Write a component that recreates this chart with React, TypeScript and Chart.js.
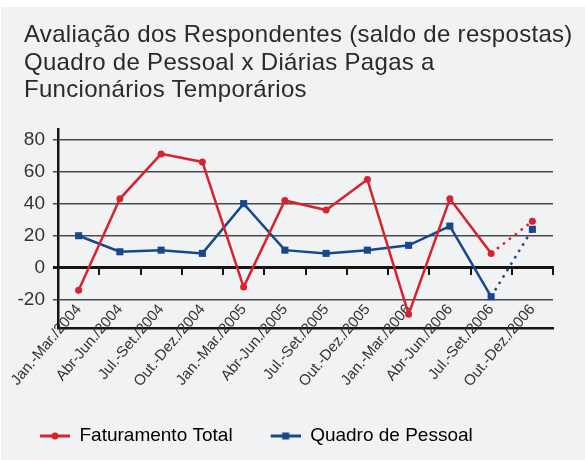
import React, { useEffect, useRef } from 'react';
import { Chart, registerables } from 'chart.js';

Chart.register(...registerables);

const titleLines = [
  'Avaliação dos Respondentes (saldo de respostas)',
  'Quadro de Pessoal x Diárias Pagas a',
  'Funcionários Temporários',
];

const categories = [
  'Jan.-Mar./2004',
  'Abr-Jun./2004',
  'Jul.-Set./2004',
  'Out.-Dez./2004',
  'Jan.-Mar./2005',
  'Abr-Jun./2005',
  'Jul.-Set./2005',
  'Out.-Dez./2005',
  'Jan.-Mar./2006',
  'Abr-Jun./2006',
  'Jul.-Set./2006',
  'Out.-Dez./2006',
];

const faturamentoTotal = [-14, 43, 71, 66, -12, 42, 36, 55, -29, 43, 9, 29];
const quadroDePessoal = [20, 10, 11, 9, 40, 11, 9, 11, 14, 26, -18, 24];

const seriesNames = ['Faturamento Total', 'Quadro de Pessoal'];
const yTicks = [-20, 0, 20, 40, 60, 80];

const RED = '#d6232d';
const BLUE = '#17488c';
const FONT = "'Liberation Sans', Arial, sans-serif";

function makeLegendImage(color: string, kind: 'circle' | 'rect') {
  const c = document.createElement('canvas');
  c.width = 58;
  c.height = 12;
  const g = c.getContext('2d')!;
  g.strokeStyle = color;
  g.lineWidth = 3;
  g.beginPath();
  g.moveTo(28, 6);
  g.lineTo(58, 6);
  g.stroke();
  g.fillStyle = color;
  if (kind === 'circle') {
    g.beginPath();
    g.arc(43, 6, 3.5, 0, Math.PI * 2);
    g.fill();
  } else {
    g.fillRect(39.5, 2.5, 7, 7);
  }
  return c;
}

export default function App() {
  const ref = useRef<HTMLCanvasElement>(null);

  useEffect(() => {
    const imgs = [makeLegendImage(RED, 'circle'), makeLegendImage(BLUE, 'rect')];
    const dashLast = (c: any) => (c.p0DataIndex === 10 ? [2.5, 5] : undefined);
    const chart = new Chart(ref.current!, {
      type: 'line',
      data: {
        labels: categories,
        datasets: [
          {
            label: seriesNames[0],
            data: faturamentoTotal,
            borderColor: RED,
            backgroundColor: RED,
            borderWidth: 2.5,
            pointStyle: 'circle',
            pointRadius: 3.5,
            pointBorderWidth: 0,
            pointBackgroundColor: RED,
            tension: 0,
            segment: { borderDash: dashLast },
          },
          {
            label: seriesNames[1],
            data: quadroDePessoal,
            borderColor: BLUE,
            backgroundColor: BLUE,
            borderWidth: 2.5,
            pointStyle: 'rect',
            pointRadius: 5,
            pointBorderWidth: 0,
            pointBackgroundColor: BLUE,
            tension: 0,
            segment: { borderDash: dashLast },
          },
        ],
      },
      options: {
        animation: false,
        responsive: false,
        layout: { padding: { left: 2, right: 32, top: 129, bottom: 4.5 } },
        plugins: {
          title: { display: false },
          tooltip: { enabled: false },
          legend: {
            position: 'bottom',
            align: 'start',
            labels: {
              usePointStyle: true,
              pointStyleWidth: 58,
              padding: 10,
              color: '#333',
              font: { family: FONT, size: 19 },
              generateLabels: () =>
                seriesNames.map((name, i) => ({
                  text: name,
                  pointStyle: imgs[i] as any,
                  fillStyle: 'rgba(0,0,0,0)',
                  strokeStyle: 'rgba(0,0,0,0)',
                  lineWidth: 0,
                  hidden: false,
                  datasetIndex: i,
                })),
            },
          },
        },
        scales: {
          x: {
            type: 'category',
            offset: true,
            grid: { display: false, drawTicks: false },
            border: { display: true, color: '#151515', width: 2.5 },
            ticks: { display: false },
            afterFit: (s: any) => {
              s.height = 88.5;
              s.paddingLeft = 0;
              s.paddingRight = 0;
            },
          },
          x2: {
            type: 'category',
            labels: categories,
            position: { y: 0 } as any,
            offset: true,
            grid: {
              offset: true,
              drawOnChartArea: false,
              drawTicks: true,
              tickLength: 6,
              color: '#151515',
              lineWidth: 2,
            },
            border: { display: true, color: '#151515', width: 3 },
            ticks: {
              autoSkip: false,
              minRotation: 50,
              maxRotation: 50,
              padding: 27,
              color: '#333',
              font: { family: FONT, size: 15 },
            },
            afterFit: (s: any) => {
              s.height = 0;
              s.paddingLeft = 0;
              s.paddingRight = 0;
            },
          },
          y: {
            min: -37.5,
            max: 86.5,
            afterBuildTicks: (axis: any) => {
              axis.ticks = yTicks.map((v) => ({ value: v }));
            },
            grid: {
              color: (c: any) => (c.tick && c.tick.value === 0 ? '#151515' : '#4a4a4a'),
              lineWidth: (c: any) => (c.tick && c.tick.value === 0 ? 3 : 1.5),
              tickLength: 5,
            },
            border: { display: true, color: '#151515', width: 2.5 },
            ticks: {
              padding: 8,
              color: '#333',
              font: { family: FONT, size: 19 },
            },
            afterFit: (s: any) => {
              s.width = 56;
            },
          },
        },
      },
    } as any);
    return () => chart.destroy();
  }, []);

  return (
    <div style={{ position: 'absolute', left: 0, top: 0, width: 585, height: 460, background: '#ffffff', overflow: 'hidden' }}>
      <div style={{ position: 'absolute', left: 1, top: 7, right: 0, bottom: 0, background: '#f1f2f4' }} />
      <canvas ref={ref} width={585} height={460} style={{ position: 'absolute', left: 0, top: 0, width: 585, height: 460 }} />
      <div
        style={{
          position: 'absolute',
          left: 24,
          top: 20,
          fontFamily: FONT,
          fontSize: 24,
          lineHeight: '27.5px',
          letterSpacing: '0.3px',
          color: '#2a2a2a',
          whiteSpace: 'nowrap',
        }}
      >
        {titleLines.map((t) => (
          <div key={t}>{t}</div>
        ))}
      </div>
    </div>
  );
}
